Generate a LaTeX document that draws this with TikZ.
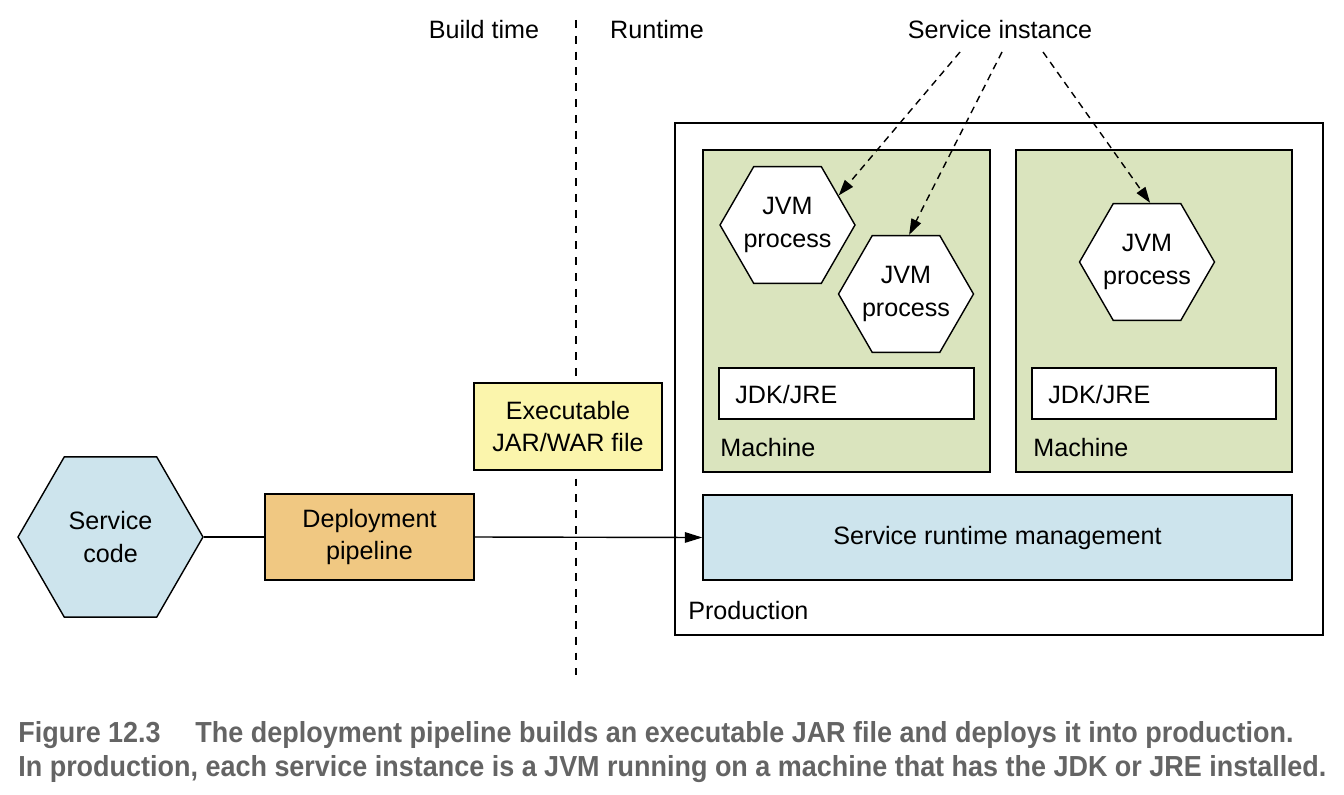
\documentclass[tikz,border=0pt]{standalone}
\usepackage{fontspec}
\setmainfont{Liberation Sans}
\newfontfamily\capfont{Liberation Sans}[FakeStretch=0.93]
\usetikzlibrary{shapes.geometric, arrows.meta, positioning, fit}
\definecolor{CodeBlue}{RGB}{205, 228, 237}
\definecolor{MachineGreen}{RGB}{218, 228, 190}
\definecolor{PipeOrange}{RGB}{240, 200, 130}
\definecolor{JarYellow}{RGB}{251, 245, 172}
\definecolor{CaptionGrey}{RGB}{100, 100, 100}

\tikzset{
  hexa/.style={regular polygon, regular polygon sides=6, draw, line width=0.8pt,
    inner sep=0pt},
  hextxt/.style={label={[align=center]center:{#1}}},
  box/.style={rectangle, draw, line width=0.8pt, inner sep=0pt, align=center},
  lbl/.style={inner sep=0pt, anchor=west},
  captxt/.style={inner sep=0pt, anchor=base west, text=CaptionGrey,
    font=\capfont\bfseries\fontsize{16.5}{19}\selectfont},
  divider/.style={line width=0.8pt, dash pattern=on 4.5pt off 4.5pt},
  pointer/.style={line width=0.8pt, dash pattern=on 4pt off 3pt,
    -{Triangle[length=9pt, width=6pt]}},
}

\begin{document}
\begin{tikzpicture}[x=0.02cm, y=-0.02cm, font=\fontsize{14.3}{18.5}\selectfont]
    \useasboundingbox (0,0) rectangle (1344,794);

    % Build time / runtime
    \draw[divider] (576,20) -- (576,675);
    \node (build) at (484,30) {Build time};
    \node (run) at (657,30) {Runtime};

    % Production
    \node[box, fit={(675,123) (1323,635)}] (prod) {};
    \node[lbl] (prodlbl) at (688,611) {Production};

    % Machines
    \node[box, fill=MachineGreen, fit={(703,150) (990,472)}] (mach1) {};
    \node[lbl] (machlbl1) at (720,448) {Machine};
    \node[box, fill=MachineGreen, fit={(1016,150) (1292,472)}] (mach2) {};
    \node[lbl] (machlbl2) at (1033,448) {Machine};

    \node[box, fill=white, fit={(719,368) (974,419)}] (jdk1) {};
    \node[lbl] (jdklbl1) at (735,395) {JDK/JRE};
    \node[box, fill=white, fit={(1032,368) (1276,419)}] (jdk2) {};
    \node[lbl] (jdklbl2) at (1048,395) {JDK/JRE};

    % JVM processes
    \node[hexa, fill=white, minimum size=2.7cm, hextxt={JVM\\process}] (jvm1) at (787.5,225) {};
    \node[hexa, fill=white, minimum size=2.7cm, hextxt={JVM\\process}] (jvm2) at (906,294) {};
    \node[hexa, fill=white, minimum size=2.7cm, hextxt={JVM\\process}] (jvm3) at (1147,262) {};

    \node[box, fill=CodeBlue, minimum width=11.78cm, minimum height=1.7cm] (rtm)
      at (997.5,537.5) {Service runtime management};

    % Build side
    \node[hexa, fill=CodeBlue, minimum size=3.7cm, hextxt={Service\\code}] (code) at (110.5,537) {};
    \node[box, fill=PipeOrange, minimum width=4.18cm, minimum height=1.72cm] (pipe)
      at (369.5,537) {Deployment\\pipeline};
    \node[box, fill=JarYellow, minimum width=3.76cm, minimum height=1.74cm] (jar)
      at (568,426.5) {Executable\\JAR/WAR file};

    \draw[line width=0.8pt] (code) -- (pipe);
    \draw[line width=0.8pt, -{Triangle[length=10pt, width=6pt]}] (pipe.east) -- (rtm.west);

    % Service instance
    \node (inst) at (1000,30) {Service instance};
    \coordinate (inst1) at (960,52);
    \coordinate (inst2) at (1002,52);
    \coordinate (inst3) at (1043,52);
    \draw[pointer] (inst1) -- (jvm1.30);
    \draw[pointer] (inst2) -- (jvm2.87);
    \draw[pointer] (inst3) -- (jvm3.87);

    % Caption
    \node[captxt] (cap1) at (18,742) {Figure 12.3\hspace{1.2em}The deployment pipeline builds an executable JAR file and deploys it into production.};
    \node[captxt] (cap2) at (18,776) {In production, each service instance is a JVM running on a machine that has the JDK or JRE installed.};
\end{tikzpicture}
\end{document}
